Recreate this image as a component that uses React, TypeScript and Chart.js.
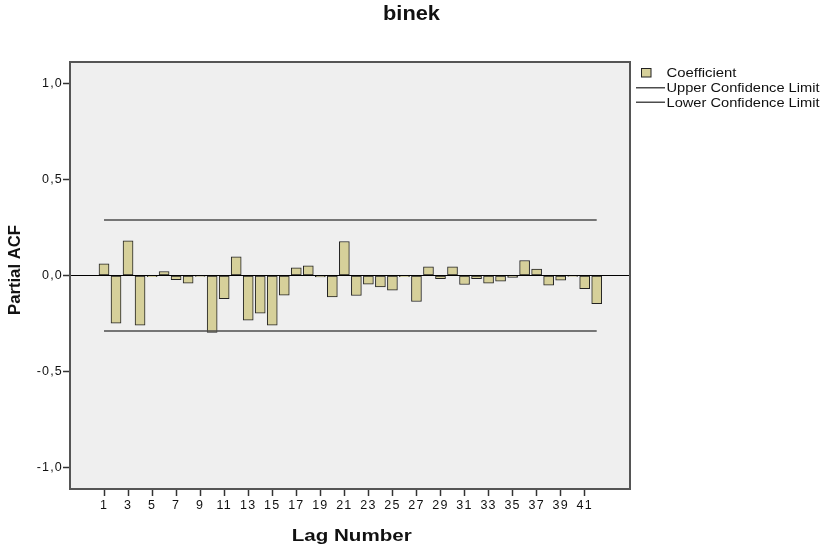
import React, { useEffect, useRef } from "react";
import { Chart, registerables } from "chart.js";

Chart.register(...registerables);

const chartTitle = "binek";
const xTitle = "Lag Number";
const yTitle = "Partial ACF";

const lags = [
  1, 2, 3, 4, 5, 6, 7, 8, 9, 10, 11, 12, 13, 14, 15, 16, 17, 18, 19, 20, 21,
  22, 23, 24, 25, 26, 27, 28, 29, 30, 31, 32, 33, 34, 35, 36, 37, 38, 39, 40, 41, 42,
];

const pacf = [
  0.061, -0.248, 0.18, -0.258, -0.006, 0.021, -0.022, -0.04, -0.005, -0.296,
  -0.121, 0.097, -0.232, -0.196, -0.258, -0.102, 0.04, 0.05, -0.008, -0.111,
  0.177, -0.104, -0.045, -0.059, -0.076, -0.006, -0.135, 0.045, -0.017, 0.045,
  -0.047, -0.017, -0.04, -0.029, -0.01, 0.078, 0.033, -0.05, -0.024, -0.005,
  -0.069, -0.147,
];

const limitLags = [1, 42];
const upperLimit = [0.288, 0.288];
const lowerLimit = [-0.288, -0.288];

const xTickLags = [1, 3, 5, 7, 9, 11, 13, 15, 17, 19, 21, 23, 25, 27, 29, 31, 33, 35, 37, 39, 41];
const yTickValues = [-1, -0.5, 0, 0.5, 1];

const legendLabels = ["Coefficient", "Upper Confidence Limit", "Lower Confidence Limit"];

const BAR_FILL = "#d6d09a";
const BAR_EDGE = "#222222";
const LIMIT_COLOR = "#4d4d4d";
const PLOT_BG = "#efefef";
const FRAME = "#555555";
const TEXT = "#111111";

function stretchText(
  ctx: CanvasRenderingContext2D,
  text: string,
  x: number,
  y: number,
  font: string,
  targetW: number,
  align: CanvasTextAlign,
  rotate = 0
) {
  ctx.save();
  ctx.font = font;
  (ctx as any).letterSpacing = "0px";
  const w = ctx.measureText(text).width;
  const sx = targetW / w;
  ctx.translate(x, y);
  if (rotate) ctx.rotate(rotate);
  ctx.scale(sx, 1);
  ctx.textAlign = align;
  ctx.textBaseline = "alphabetic";
  ctx.fillStyle = TEXT;
  ctx.fillText(text, 0, 0);
  ctx.restore();
}

const decorPlugin = {
  id: "decor",
  beforeDraw(chart: any) {
    const { ctx, chartArea } = chart;
    ctx.save();
    ctx.fillStyle = "#ffffff";
    ctx.fillRect(0, 0, chart.width, chart.height);
    ctx.fillStyle = PLOT_BG;
    ctx.fillRect(chartArea.left, chartArea.top, chartArea.right - chartArea.left, chartArea.bottom - chartArea.top);
    ctx.restore();
    (ctx as any).letterSpacing = "1.2px";
  },
  afterDraw(chart: any) {
    const { ctx, chartArea } = chart;
    (ctx as any).letterSpacing = "0px";
    // frame
    ctx.save();
    ctx.strokeStyle = FRAME;
    ctx.lineWidth = 2;
    ctx.strokeRect(chartArea.left, chartArea.top, chartArea.right - chartArea.left, chartArea.bottom - chartArea.top);
    ctx.restore();

    // titles
    stretchText(ctx, chartTitle, 411.5, 19.5, "bold 20px 'Liberation Sans'", 57, "center");
    stretchText(ctx, xTitle, 351.7, 541, "bold 17px 'Liberation Sans'", 120, "center");
    stretchText(ctx, yTitle, 20, 270, "bold 16.5px 'Liberation Sans'", 90, "center", -Math.PI / 2);

    // legend
    ctx.save();
    ctx.fillStyle = BAR_FILL;
    ctx.fillRect(642, 68.5, 9, 8.5);
    ctx.strokeStyle = BAR_EDGE;
    ctx.lineWidth = 1;
    ctx.strokeRect(641.5, 68.5, 9.5, 8.5);
    ctx.strokeStyle = LIMIT_COLOR;
    ctx.lineWidth = 1.5;
    ctx.beginPath();
    ctx.moveTo(636, 87.7);
    ctx.lineTo(665, 87.7);
    ctx.moveTo(636, 102.3);
    ctx.lineTo(665, 102.3);
    ctx.stroke();
    ctx.restore();
    stretchText(ctx, legendLabels[0], 666.5, 76.7, "12.5px 'Liberation Sans'", 70, "left");
    stretchText(ctx, legendLabels[1], 666.5, 92, "12.5px 'Liberation Sans'", 153, "left");
    stretchText(ctx, legendLabels[2], 666.5, 107, "12.5px 'Liberation Sans'", 153, "left");
  },
};

export default function App() {
  const canvasRef = useRef<HTMLCanvasElement | null>(null);

  useEffect(() => {
    if (!canvasRef.current) return;
    const tickFont = { family: "'Liberation Sans', Arial, sans-serif", size: 12.5 };
    const chart = new Chart(canvasRef.current, {
      type: "bar",
      data: {
        datasets: [
          {
            type: "line",
            label: legendLabels[1],
            data: limitLags.map((x, i) => ({ x, y: upperLimit[i] })),
            borderColor: LIMIT_COLOR,
            borderWidth: 1.5,
            pointRadius: 0,
            order: 0,
          } as any,
          {
            type: "line",
            label: legendLabels[2],
            data: limitLags.map((x, i) => ({ x, y: lowerLimit[i] })),
            borderColor: LIMIT_COLOR,
            borderWidth: 1.5,
            pointRadius: 0,
            order: 0,
          } as any,
          {
            type: "bar",
            label: legendLabels[0],
            data: lags.map((x, i) => ({ x, y: pacf[i] })),
            backgroundColor: BAR_FILL,
            borderColor: BAR_EDGE,
            borderWidth: 1,
            borderSkipped: false,
            barThickness: 10,
            order: 1,
          } as any,
        ],
      },
      options: {
        responsive: false,
        animation: false,
        devicePixelRatio: 1,
        layout: { padding: { top: 62, right: 199, left: 0, bottom: 0 } },
        plugins: {
          legend: { display: false },
          tooltip: { enabled: false },
          title: { display: false },
        },
        scales: {
          x: {
            type: "linear",
            min: -1.83,
            max: 44.77,
            offset: false,
            afterFit: (s: any) => {
              s.height = 62;
            },
            afterBuildTicks: (s: any) => {
              s.ticks = xTickLags.map((v) => ({ value: v }));
            },
            grid: {
              offset: false,
              drawOnChartArea: false,
              drawTicks: true,
              tickLength: 7,
              tickColor: "#333",
              tickWidth: 1.5,
            },
            border: { display: false },
            ticks: {
              font: tickFont,
              color: TEXT,
              padding: 2,
              maxRotation: 0,
              autoSkip: false,
              callback: (v: any) => String(v),
            },
          },
          y: {
            type: "linear",
            min: -1.11,
            max: 1.11,
            afterFit: (s: any) => {
              s.width = 70;
            },
            afterBuildTicks: (s: any) => {
              s.ticks = yTickValues.map((v) => ({ value: v }));
            },
            grid: {
              color: (c: any) => (c.tick && c.tick.value === 0 ? "#000000" : "rgba(0,0,0,0)"),
              lineWidth: 1,
              drawTicks: true,
              tickLength: 7,
              tickColor: "#333",
              tickWidth: 1.5,
            },
            border: { display: false },
            ticks: {
              font: tickFont,
              color: TEXT,
              padding: 0,
              autoSkip: false,
              callback: (v: any) => Number(v).toFixed(1).replace(".", ","),
            },
          },
        },
      } as any,
      plugins: [decorPlugin],
    });
    return () => chart.destroy();
  }, []);

  return (
    <div style={{ position: "absolute", left: 0, top: 0, width: 829, height: 551, background: "#fff" }}>
      <canvas ref={canvasRef} width={829} height={551} style={{ display: "block" }} />
    </div>
  );
}
